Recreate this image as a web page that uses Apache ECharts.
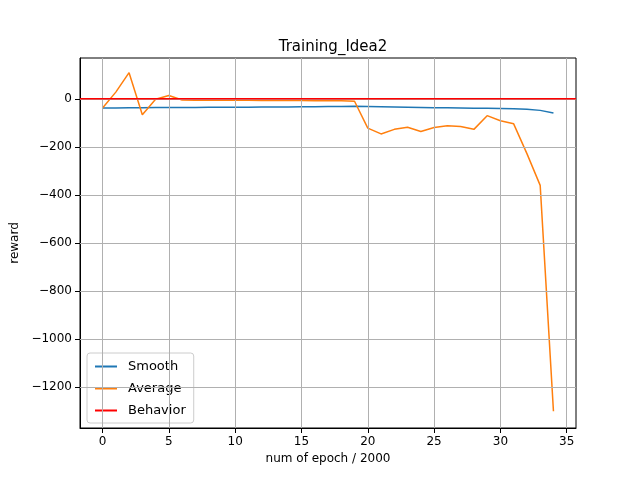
<!DOCTYPE html>
<html>
<head>
    <meta charset="UTF-8">
    <script type="text/javascript" src="https://cdn.jsdelivr.net/npm/echarts@6/dist/echarts.min.js"></script>
</head>
<body style="margin:0">
    <div style="height: 480px;width: 640px" id="myDiv"></div>
    <script type="text/javascript">
        var epochs = [];
        for (var i = 0; i <= 34; i++) epochs.push(i);
        var smooth = [-38, -38, -37, -37, -36, -36, -36, -36, -35, -35, -35, -35, -34, -34, -34, -33, -33, -32, -32, -31,
                      -32, -33, -34, -35, -36, -37, -37, -38, -39, -39, -40, -41, -43, -48, -59];
        var average = [-38, 28, 109, -66, -2, 14, -5, -6, -6, -6, -6, -6, -7, -7, -7, -7, -8, -8, -8, -10,
                       -122, -146, -127, -118, -136, -119, -112, -115, -127, -70, -91, -104, -228, -360, -1300];
        var behavior = 0;
        var xTicks = [0, 5, 10, 15, 20, 25, 30, 35];
        var yTicks = [-1200, -1000, -800, -600, -400, -200, 0];

        function pairs(arr) {
            return arr.map(function (v, i) { return [epochs[i], v]; });
        }

        var chart = echarts.init(document.getElementById("myDiv"));
        var font = 'DejaVu Sans';
        var option = {
            animation: false,
            title: {
                text: 'Training_Idea2',
                left: 328, top: 35, textAlign: 'center',
                textStyle: {fontFamily: font, fontSize: 15, fontWeight: 'normal', color: '#000'}
            },
            legend: {
                orient: 'vertical', left: 87, top: 353,
                data: ['Smooth', 'Average', 'Behavior'],
                icon: 'rect', itemWidth: 22, itemHeight: 2, itemGap: 9,
                backgroundColor: '#fff', borderColor: '#ccc', borderWidth: 1, borderRadius: 3, padding: [7, 8, 6, 8],
                textStyle: {fontFamily: font, fontSize: 13, color: '#000', padding: [0, 4, 0, 6]}
            },
            grid: {left: 80, right: 64, top: 58, bottom: 52, show: true, borderColor: '#000', borderWidth: 1},
            xAxis: {
                type: 'value', min: -1.7, max: 35.7,
                name: 'num of epoch / 2000', nameLocation: 'middle', nameGap: 22,
                nameTextStyle: {fontFamily: font, fontSize: 12, color: '#000'},
                axisLine: {onZero: false, lineStyle: {color: '#000'}},
                axisTick: {show: true, lineStyle: {color: '#000'}, customValues: xTicks},
                axisLabel: {fontFamily: font, fontSize: 12, color: '#000', customValues: xTicks},
                splitLine: {show: false}
            },
            yAxis: {
                type: 'value', min: -1370, max: 170,
                name: 'reward', nameLocation: 'middle', nameGap: 58,
                nameTextStyle: {fontFamily: font, fontSize: 12, color: '#000'},
                axisLine: {show: true, onZero: false, lineStyle: {color: '#000'}},
                axisTick: {show: true, lineStyle: {color: '#000'}, customValues: yTicks},
                axisLabel: {fontFamily: font, fontSize: 12, color: '#000', customValues: yTicks,
                    formatter: function (v) { return String(v).replace('-', '\u2212'); }},
                splitLine: {show: false}
            },
            series: [
                {name: 'Smooth', type: 'line', data: pairs(smooth), symbol: 'none', color: '#1f77b4', lineStyle: {width: 1.5}, z: 3},
                {name: 'Average', type: 'line', data: pairs(average), symbol: 'none', color: '#ff7f0e', lineStyle: {width: 1.5}, z: 4},
                {name: 'Behavior', type: 'line', data: [[-1.7, behavior], [35.7, behavior]], symbol: 'none', color: '#ff0000', lineStyle: {width: 1.5}, z: 5},
                {type: 'line', data: [], silent: true,
                    markLine: {silent: true, symbol: 'none', label: {show: false},
                        lineStyle: {color: '#b0b0b0', type: 'solid', width: 1},
                        data: xTicks.map(function (v) { return {xAxis: v}; })
                            .concat(yTicks.map(function (v) { return {yAxis: v}; }))},
                    z: 1}
            ]
        };
        chart.setOption(option);
    </script>
</body>
</html>
